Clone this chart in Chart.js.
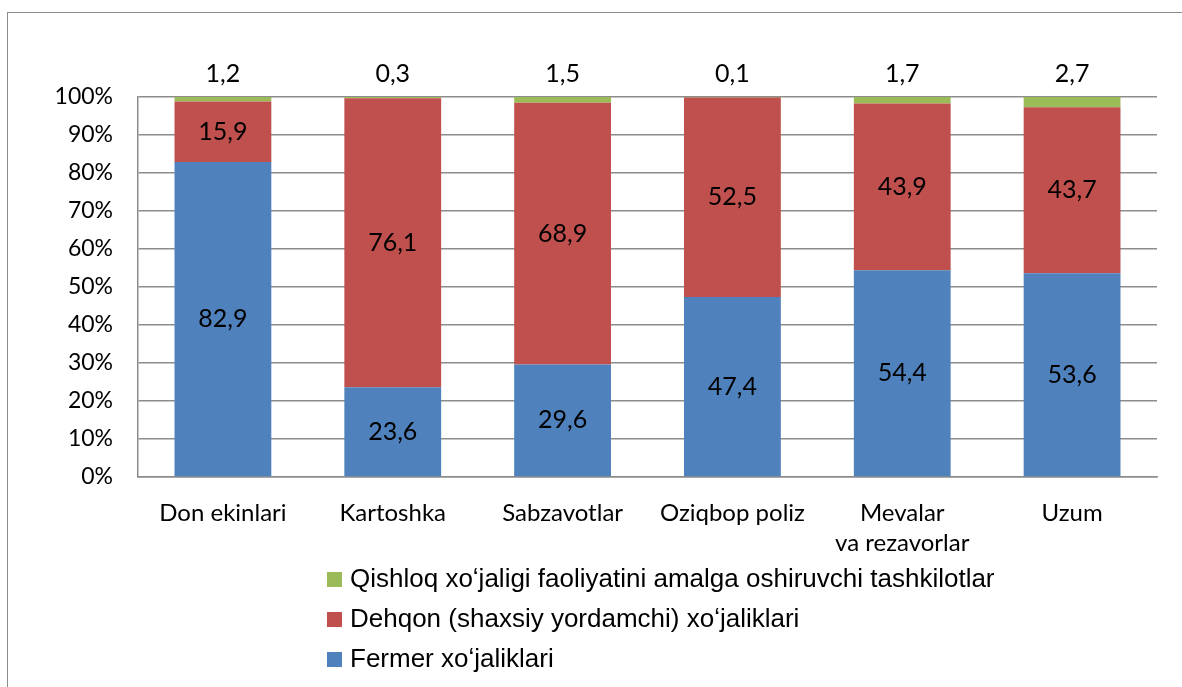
<!DOCTYPE html>
<html>
<head>
<meta charset="utf-8">
<script src="https://cdn.jsdelivr.net/npm/chart.js@4.4.1/dist/chart.umd.min.js"></script>
<style>
  html, body { margin: 0; padding: 0; background: #ffffff; overflow: hidden; }
  #wrap { position: relative; width: 1182px; height: 687px; }
  #frame { position: absolute; left: 7px; top: 12px; width: 1300px; height: 800px; border: 1.5px solid #8c8c8c; box-sizing: border-box; }
  canvas { position: absolute; left: 0; top: 0; }
</style>
</head>
<body>
<div id="wrap">
  <div id="frame"></div>
  <canvas id="c" width="1182" height="687"></canvas>
</div>
<script>
const categories = ["Don ekinlari", "Kartoshka", "Sabzavotlar", "Oziqbop poliz", ["Mevalar", "va rezavorlar"], "Uzum"];
const fermerValues = [82.9, 23.6, 29.6, 47.4, 54.4, 53.6];
const dehqonValues = [15.9, 76.1, 68.9, 52.5, 43.9, 43.7];
const tashkilotValues = [1.2, 0.3, 1.5, 0.1, 1.7, 2.7];
const seriesNames = ["Fermer xo\u02BBjaliklari", "Dehqon (shaxsiy yordamchi) xo\u02BBjaliklari", "Qishloq xo\u02BBjaligi faoliyatini amalga oshiruvchi tashkilotlar"];
const yTicks = [0, 10, 20, 30, 40, 50, 60, 70, 80, 90, 100];

const colors = ["#4F81BD", "#C0504D", "#9BBB59"];
const labelFont = "25px Lato, 'Open Sans', sans-serif";

const fmt = v => v.toFixed(1).replace(".", ",");

const labelPlugin = {
  id: "valueLabels",
  afterDatasetsDraw(chart) {
    const ctx = chart.ctx;
    ctx.save();
    ctx.font = labelFont;
    ctx.fillStyle = "#000";
    ctx.textAlign = "center";
    ctx.textBaseline = "middle";
    chart.data.datasets.forEach((ds, di) => {
      const meta = chart.getDatasetMeta(di);
      meta.data.forEach((bar, i) => {
        const v = ds.data[i];
        if (di < 2) {
          ctx.fillText(fmt(v), bar.x, (bar.y + bar.base) / 2);
        } else {
          ctx.fillText(fmt(v), bar.x, chart.chartArea.top - 23);
        }
      });
    });
    ctx.restore();
  }
};

const legendPlugin = {
  id: "customLegend",
  afterDraw(chart) {
    const ctx = chart.ctx;
    ctx.save();
    ctx.font = "26px 'Liberation Sans', Arial, sans-serif";
    ctx.textBaseline = "middle";
    ctx.textAlign = "left";
    const order = [2, 1, 0];
    order.forEach((di, row) => {
      const y = 579 + row * 40;
      ctx.fillStyle = chart.data.datasets[di].backgroundColor;
      ctx.fillRect(327, y - 7, 15, 15);
      ctx.fillStyle = "#000";
      ctx.fillText(chart.data.datasets[di].label, 350, y + 1);
    });
    ctx.restore();
  }
};

new Chart(document.getElementById("c"), {
  type: "bar",
  data: {
    labels: categories,
    datasets: [
      { label: seriesNames[0], data: fermerValues, backgroundColor: colors[0] },
      { label: seriesNames[1], data: dehqonValues, backgroundColor: colors[1] },
      { label: seriesNames[2], data: tashkilotValues, backgroundColor: colors[2] }
    ]
  },
  options: {
    responsive: false,
    animation: false,
    layout: { padding: { left: 0, right: 25, top: 97, bottom: 0 } },
    datasets: { bar: { barPercentage: 0.57, categoryPercentage: 1.0 } },
    plugins: { legend: { display: false }, tooltip: { enabled: false } },
    scales: {
      x: {
        stacked: true,
        grid: { display: false, drawTicks: false },
        border: { display: true, color: "#8c8c8c", width: 1.5 },
        ticks: { color: "#000", font: { family: "Lato, 'Open Sans', sans-serif", size: 24, lineHeight: 1.25 }, padding: 21, maxRotation: 0, autoSkip: false },
        afterFit(scale) { scale.height = 210; }
      },
      y: {
        stacked: true,
        min: 0,
        max: 100,
        afterBuildTicks(scale) { scale.ticks = yTicks.map(v => ({ value: v })); },
        grid: { color: "#8c8c8c", lineWidth: 1.5, drawTicks: false },
        border: { display: true, color: "#8c8c8c", width: 1.5 },
        ticks: { color: "#000", font: { family: "Lato, 'Open Sans', sans-serif", size: 23 }, padding: 25, callback: v => v + "%" },
        afterFit(scale) { scale.width = 138; }
      }
    }
  },
  plugins: [labelPlugin, legendPlugin]
});
</script>
</body>
</html>
